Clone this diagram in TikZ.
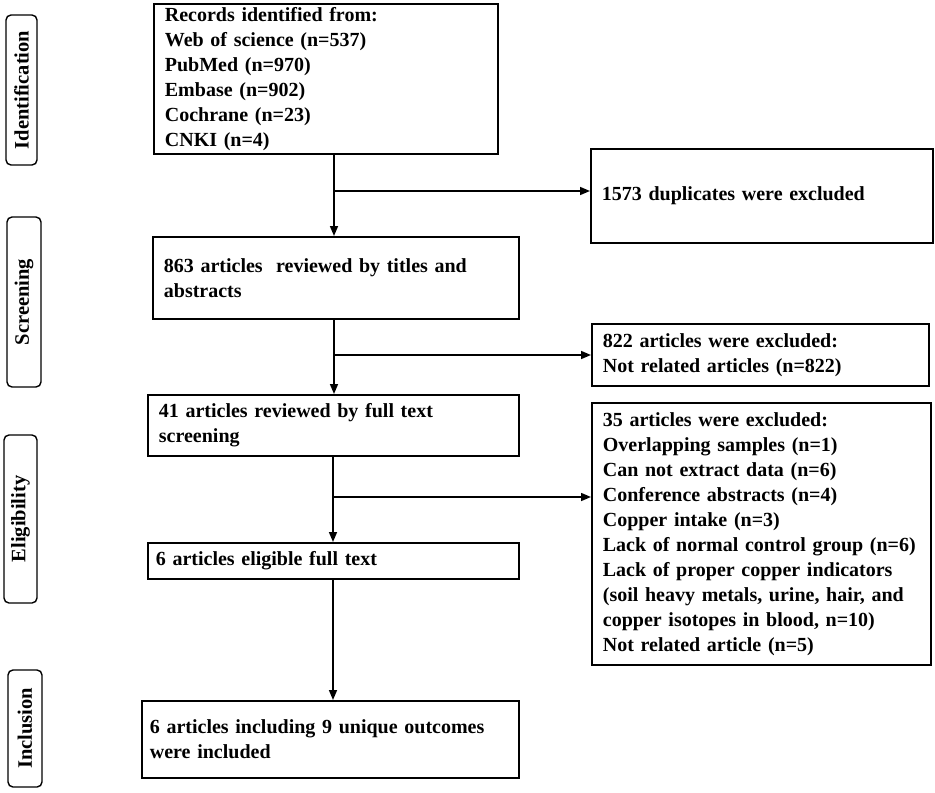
\documentclass[tikz,border=0pt]{standalone}
\usepackage{fontspec}
\setmainfont{Liberation Serif}
\usetikzlibrary{arrows.meta}
\begin{document}
\begin{tikzpicture}[x=1pt,y=-1pt,
  box/.style={draw=black,line width=1.8pt,rectangle,anchor=north west,
    inner xsep=11pt,inner ysep=0pt,align=left,
    font=\bfseries\fontsize{20}{25}\selectfont},
  side/.style={draw=black,line width=1.4pt,rounded corners=5pt,rotate=90,
    inner sep=0pt,font=\bfseries\fontsize{20.5}{22}\selectfont},
  arr/.style={line width=1.5pt,-{Triangle[length=10pt,width=8pt]}},
  ln/.style={line width=1.5pt}]
\useasboundingbox (0,0) rectangle (935,793);

% side labels
\node[side,minimum width=150pt,minimum height=31pt] (sid) at (21.5,90) {Identification};
\node[side,minimum width=170pt,minimum height=34pt] (sscr) at (24,302) {Screening};
\node[side,minimum width=168pt,minimum height=33pt] (seli) at (20.5,519) {Eligibility};
\node[side,minimum width=117pt,minimum height=34pt] (sinc) at (25,728.5) {Inclusion};

% main boxes
\node[box,text width=322pt,minimum height=150pt] (rec) at (153,3)
  {\rule{0pt}{8pt}Records identified from:\\Web of science (n=537)\\PubMed (n=970)\\Embase (n=902)\\Cochrane (n=23)\\CNKI (n=4)};
\node[box,text width=320pt,minimum height=94pt] (dup) at (590,148)
  {1573 duplicates were excluded};
\node[box,text width=344pt,minimum height=82pt] (s863) at (152,236)
  {\mbox{863 articles\ \ reviewed by titles and}\\abstracts};
\node[box,text width=315pt,minimum height=62pt] (ex822) at (591,323)
  {822 articles were excluded:\\Not related articles (n=822)};
\node[box,text width=349pt,minimum height=61pt] (s41) at (147,394)
  {41 articles reviewed by full text\\screening};
\node[box,text width=317pt,minimum height=262pt] (ex35) at (591,402)
  {\mbox{35 articles were excluded:}\\\mbox{Overlapping samples (n=1)}\\\mbox{Can not extract data (n=6)}\\\mbox{Conference abstracts (n=4)}\\\mbox{Copper intake (n=3)}\\\mbox{Lack of normal control group (n=6)}\\\mbox{Lack of proper copper indicators}\\\mbox{(soil heavy metals, urine, hair, and}\\\mbox{copper isotopes in blood, n=10)}\\\mbox{Not related article (n=5)}};
\node[box,text width=355pt,minimum height=36pt,inner xsep=8pt] (el6) at (147,542)
  {6 articles eligible full text};
\node[box,text width=361pt,minimum height=77pt,inner xsep=8pt] (inc) at (141,700)
  {\mbox{6 articles including 9 unique outcomes}\\were included};

% junctions
\coordinate (j1) at (334,191);
\coordinate (j2) at (334,355);
\coordinate (j3) at (333,497);
\coordinate (j4) at (333,620);

% connectors
\draw[arr] (rec.south -| j1) -- (s863.north -| j1);
\draw[arr] (j1) -- (j1 -| dup.west);
\draw[arr] (s863.south -| j2) -- (s41.north -| j2);
\draw[arr] (j2) -- (j2 -| ex822.west);
\draw[arr] (s41.south -| j3) -- (el6.north -| j3);
\draw[arr] (j3) -- (j3 -| ex35.west);
\draw[arr] (el6.south -| j4) -- (inc.north -| j4);
\end{tikzpicture}
\end{document}
